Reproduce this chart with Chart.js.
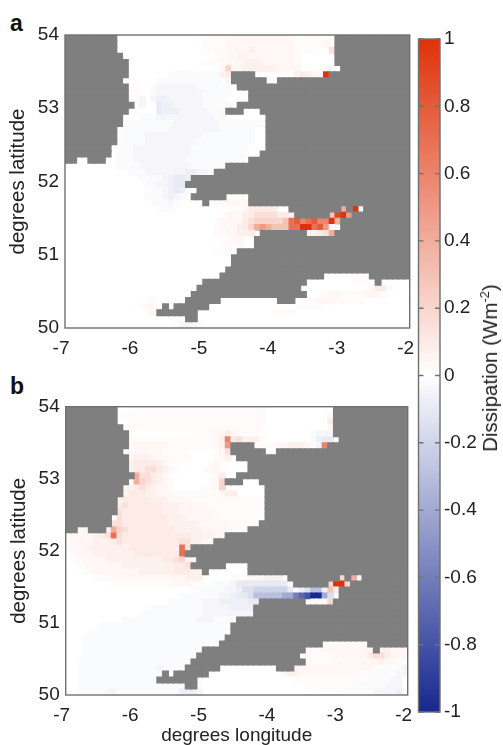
<!DOCTYPE html>
<html>
<head>
<meta charset="utf-8">
<script src="https://cdn.jsdelivr.net/npm/chart.js@4/dist/chart.umd.min.js"></script>
<style>
html, body { margin: 0; padding: 0; background: #fff; overflow: hidden; }
body { width: 503px; height: 745px; position: relative; font-family: "Liberation Sans", sans-serif; color: #222; filter: blur(0.45px); }
.box { position: absolute; }
.letter { position: absolute; left: 10px; font-size: 23px; font-weight: bold; line-height: 23px; color: #111; }
#barTitle { position: absolute; left: 490px; top: 368px; white-space: nowrap; font-size: 20.5px; line-height: 20px; transform: translate(-50%, -50%) rotate(-90deg); }
#barTitle sup { font-size: 13px; line-height: 0; }
</style>
</head>
<body>
<div class="letter" style="top:12px">a</div>
<div class="letter" style="top:375px">b</div>
<div class="box" style="left:0;top:0;width:445px;height:362px"><canvas id="mapA"></canvas></div>
<div class="box" style="left:0;top:372px;width:445px;height:373px"><canvas id="mapB"></canvas></div>
<div class="box" style="left:410px;top:0;width:93px;height:745px"><canvas id="bar"></canvas></div>
<div id="barTitle">Dissipation (Wm<sup>-2</sup>)</div>
<script>
var lonTicks = [-7, -6, -5, -4, -3, -2];
var latTicks = [50, 51, 52, 53, 54];
var barTicks = [1, 0.8, 0.6, 0.4, 0.2, 0, -0.2, -0.4, -0.6, -0.8, -1];

// letter codes used in the sea rows, lower case positive, upper case negative
var levelCodes = "abcdefghijklmn";
var levelValues = [0.02, 0.04, 0.07, 0.1, 0.15, 0.2, 0.3, 0.4, 0.5, 0.6, 0.7, 0.8, 0.9, 1];

// land on the 1/12 degree grid, one row per line from 54N down: from,to,from,to column
var landSpans = [
    [0,8,47,59], [0,8,47,59], [0,8,47,59], [0,9,47,59], [0,10,47,59], [0,10,48,59],
    [0,10,29,32,46,59], [0,9,29,34,37,59], [0,10,30,59], [0,10,32,59], [0,10,32,59], [0,11,30,59],
    [0,10,28,30,34,59], [0,9,35,59], [0,9,35,59], [0,8,35,59], [0,8,35,59], [0,8,35,59],
    [0,7,35,59], [0,7,34,59], [0,1,4,6,32,59], [28,59], [26,59], [22,59],
    [21,59], [23,59], [22,27,32,59], [24,24,32,59], [39,47,49,49,52,59], [40,45,50,59],
    [48,59], [48,59], [34,41,47,59], [33,59], [33,59], [30,59],
    [29,59], [29,59], [28,59], [27,44,53,59], [24,41,54,54], [23,40],
    [22,41], [21,26,37,39], [17,17,19,24], [16,22], [21,22], []
];

// dissipation, read per row: [row, first column, level letters]
var seaA = [
    [0,24,"aaaabbbbbbbbbbbbaaaaaa"], [1,24,"aaaabbbbbbbbbbbbaaaaab"], [2,24,"aaaabbbbcbbbbbbbaaaa"], [2,46,"e"],
    [3,26,"aabbcbbbbbbbbba"], [4,24,"aaabbbbcccbbbbbba"],
    [5,27,"bf"], [5,29,"bbccccccbbbb"], [5,46,"B"],
    [6,18,"AAAAAAAAA"], [6,27,"cd"], [6,38,"aacdcbb"], [6,45,"n"],
    [7,16,"AAAAAAAAAAA"], [7,28,"b"],
    [8,11,"aa"], [8,15,"ABBBBBBBAAAAA"], [8,28,"a"],
    [9,11,"aa"], [9,15,"ABBBBBBBBAAAAA"],
    [10,12,"a"], [10,13,"B"], [10,15,"BCCBBBBBBAAAA"],
    [11,12,"a"], [11,13,"B"], [11,16,"DCCBBBBBAAAA"], [11,27,"ab"],
    [12,12,"a"], [12,16,"DCCCBBBBBAAA"], [12,27,"b"],
    [13,13,"AAABBBBBBBBBBA"], [13,27,"b"],
    [14,11,"AAAAAAAABBBBBBBBAAAAAAAA"],
    [15,10,"AAAAAAAABBBBBBBBBAAAAAA"],
    [16,9,"aAAAABBBBBBBBBBAAAAAAAAA"],
    [17,9,"aAAAABBBBBBBBBAAAAAAAAAA"],
    [18,9,"aAABBBBBBBBBBAAAAAAAAAA"],
    [19,9,"AAABBBBBBBBBBAAAAAAAAAA"],
    [20,9,"AAABBBBBBBBBAAAAAAAAAA"],
    [21,9,"AAAABBBBBBBBBAAAAAAA"],
    [22,11,"AAABBBBBBBCCBBAA"],
    [23,13,"AAAABCDDCA"], [24,14,"AABBCDDCA"], [25,15,"AABCDCA"], [26,14,"AAABCBA"], [27,15,"AAABA"], [28,16,"AAA"],
    [26,28,"aaaa"], [27,26,"aabbbb"],
    [28,29,"aab"], [28,32,"ddddd"], [28,48,"h"], [28,50,"n"],
    [29,27,"abbb"], [29,31,"cdeeeeddc"], [29,46,"gmni"],
    [30,26,"abbbb"], [30,31,"defffffg"], [30,39,"kljklj"], [30,45,"jnh"],
    [31,26,"abbbcd"], [31,32,"fhihgggkknnklia"],
    [32,26,"aabbccd"], [32,42,"ccdeh"],
    [33,27,"aabba"], [34,27,"aaab"], [35,26,"aaa"],
    [40,50,"aaa"], [41,52,"abdda"], [42,44,"aabbaaaabbba"], [43,41,"aaabbbaaaaa"], [44,40,"aaaaa"], [45,36,"aaaa"],
    [43,14,"aa"], [44,13,"abb"], [45,14,"ab"], [46,19,"A"], [47,20,"BBBA"]
];

var seaB = [
    [0,12,"aaaaaaaaaaaaaaaaaaaaaaa"],
    [1,10,"aaaaaaaaaaaaaaaaaaaaaaaaa"], [1,46,"b"],
    [2,11,"aaaaaaaaaaaaaaaaaaaaaaaa"], [2,46,"d"],
    [3,11,"aaaaaaaaaaaaaaaaaaaaaaaa"], [3,46,"b"],
    [4,22,"aaaabbdbaaaa"], [4,43,"ABBB"],
    [5,11,"aaaaaaaaaaaaaaa"], [5,26,"bcjdeccca"], [5,43,"ACDD"],
    [6,11,"abbbbbbaaaaaaaa"], [6,26,"bci"], [6,33,"aaaabbcccbAB"], [6,45,"j"],
    [7,10,"abbbbbbaaaa"], [7,26,"abe"],
    [8,11,"bcccbbbaaaa"], [8,26,"abc"],
    [9,11,"cddddcbaa"], [9,25,"aba"],
    [10,11,"cddeedcba"], [10,24,"abba"],
    [11,12,"heedcb"], [11,25,"abd"],
    [12,11,"ahfedcba"], [12,25,"abf"],
    [13,10,"bcdedcbba"], [13,24,"aabf"],
    [14,10,"cdddccbbbaaaaaaaabcd"],
    [15,9,"cdddddcccbbbbaaaaaaaaaaaaa"],
    [16,9,"deddddddcccbbbbbaaaaaaaaaa"],
    [17,9,"edddddddcccbbbbbbaaaaaaaaa"],
    [18,9,"eddddddddcccbbbbbbaaaaaaaa"],
    [19,8,"eeddddddddcccccbbbbbbaaaaaa"],
    [20,2,"bb"], [20,7,"chfeddddddddcccccbbbbbaaaaa"],
    [21,0,"abbbbcdek"], [21,9,"eddddddddddddccccbbbb"],
    [22,0,"abbbbcccde"], [22,10,"ddddddddddee"], [22,22,"ccba"],
    [23,0,"abbbccccc"], [23,9,"ccdddddddddk"], [23,21,"e"],
    [24,0,"aabbbccccccc"], [24,12,"ddddddddk"],
    [25,1,"aabbbbccccccccccddef"], [25,21,"cb"],
    [26,2,"aabbbbbbcccccccccdde"],
    [27,3,"aabbbbbbbbccccccddd"], [27,22,"cc"], [27,25,"aa"],
    [28,5,"aaabbbbbbbbbbbbbccc"], [28,29,"aaabbbccc"], [28,48,"f"], [28,50,"h"],
    [29,8,"aaaaaaaaaaabbbaa"], [29,26,"AAAB"], [29,30,"DDDDDDDDDA"], [29,46,"fnnf"],
    [30,22,"AAAAAABBC"], [30,31,"EEFFFFFFDA"], [30,41,"CEGGC"], [30,46,"gd"],
    [31,20,"AAAAAAABBCD"], [31,31,"DEGGGGGHHJKLNNHE"],
    [32,18,"AAAAAABBBCCCCCDD"], [32,43,"AAbf"],
    [33,15,"AAAAAAAAABBBBBCCCC"],
    [34,13,"AAAAAAAAAAABBBBBBBBB"],
    [35,10,"AAAAAAAAAAAAABBBAAAA"],
    [36,6,"AAAAAAAAAAAAAAAAAAAAAAA"],
    [37,4,"AAAAAAAAAAAAAAAAAAAAAAAAA"],
    [38,3,"AAAAAAAAAAAAAAAAAAAAAAAAA"],
    [39,3,"AAAAAAAAAAAAAAAAAAAAAAAA"], [39,45,"aaaaaaaa"],
    [40,3,"AAAAAAAAAAAAAAAAAAAAA"], [40,42,"aaabbbbbbbbb"], [40,55,"ccbbb"],
    [41,3,"AAAAAAAAAAAAAAAAAAAA"], [41,41,"aaaaaabbbbbb"], [41,53,"deedbbb"],
    [42,2,"AAAAAAAAAAAAAAAAAAAA"], [42,42,"aaaaaabbbbbbbcbbaa"],
    [43,2,"AAAAAAAAAAAAAABAAAA"], [43,40,"cbbbbbbbbbbbbbaaAA"], [43,58,"AB"],
    [44,2,"AAAAAAAAAAAAAAA"], [44,38,"bccbbbbbbbbbbaaaaAAAB"], [44,59,"B"],
    [45,2,"AAAAAAAAAAAAAA"], [45,40,"aaaaaaaaaaaaaAAAABB"],
    [46,2,"AAAAAAAAAAAAAAAAAA"], [46,20,"ABBA"], [46,42,"aaaaaaaaaAAAAABBB"],
    [47,2,"AAAAABBAAAAAAAAAAAA"], [47,20,"CCCB"], [47,44,"aaaaaAAAAABBBBC"]
];

var gridStep = 1 / 12;

function levelOf(code) {
    var i = levelCodes.indexOf(code.toLowerCase());
    if (i < 0) return 0;
    return code === code.toLowerCase() ? levelValues[i] : -levelValues[i];
}

function valueColor(v) {
    // white to red above zero, white to blue below
    var end = v > 0 ? [222, 50, 10] : [22, 40, 142];
    var t = Math.abs(v);
    return "rgb(" + Math.round(255 + (end[0] - 255) * t) + "," + Math.round(255 + (end[1] - 255) * t) + "," + Math.round(255 + (end[2] - 255) * t) + ")";
}

function cellPoint(row, col) {
    return { x: lonTicks[0] + (col + 0.5) * gridStep, y: latTicks[latTicks.length - 1] - (row + 0.5) * gridStep };
}

function landPoints() {
    var pts = [];
    landSpans.forEach(function (spans, row) {
        for (var s = 0; s < spans.length; s += 2) {
            for (var col = spans[s]; col <= spans[s + 1]; col++) {
                pts.push(cellPoint(row, col));
            }
        }
    });
    return pts;
}

function seaPoints(sea) {
    var pts = [];
    sea.forEach(function (run) {
        for (var i = 0; i < run[2].length; i++) {
            var v = levelOf(run[2][i]);
            if (v === 0) continue;
            var p = cellPoint(run[0], run[1] + i);
            p.v = v;
            pts.push(p);
        }
    });
    return pts;
}

// frame round the plot, and the short inward ticks of the colour bar
var framePlugin = {
    id: "frame",
    afterDraw: function (chart) {
        var a = chart.chartArea, ctx = chart.ctx;
        ctx.save();
        ctx.strokeStyle = "#707070";
        ctx.lineWidth = 1.4;
        ctx.strokeRect(a.left, a.top, a.right - a.left, a.bottom - a.top);
        if (chart.canvas.id === "bar") {
            barTicks.forEach(function (t) {
                var y = chart.scales.y.getPixelForValue(t);
                ctx.beginPath();
                ctx.moveTo(a.left, y);
                ctx.lineTo(a.left + 5, y);
                ctx.moveTo(a.right - 5, y);
                ctx.lineTo(a.right, y);
                ctx.stroke();
            });
        }
        ctx.restore();
    }
};

function setTicks(values) {
    return function (axis) {
        axis.ticks = values.map(function (v) { return { value: v }; });
    };
}

function getMapChart(id, sea, pad, xHeight, xTitle) {
    var cells = seaPoints(sea);
    return new Chart(document.getElementById(id), {
        type: "scatter",
        data: {
            datasets: [
                { data: landPoints(), pointStyle: "rect", pointRadius: 4.95, pointBorderWidth: 0, pointBackgroundColor: "#7f7f7f" },
                { data: cells, pointStyle: "rect", pointRadius: 4.8, pointBorderWidth: 0,
                  pointBackgroundColor: cells.map(function (c) { return valueColor(c.v); }) }
            ]
        },
        options: {
            responsive: true,
            maintainAspectRatio: false,
            animation: false,
            events: [],
            layout: { padding: pad },
            plugins: { legend: { display: false }, tooltip: { enabled: false } },
            scales: {
                x: {
                    type: "linear", min: -7, max: -2,
                    grid: { display: false, drawTicks: false },
                    border: { display: false },
                    afterBuildTicks: setTicks(lonTicks),
                    afterFit: function (axis) { axis.height = xHeight; },
                    title: { display: !!xTitle, text: xTitle, color: "#222", padding: 0,
                             font: { family: "Liberation Sans", size: 19, lineHeight: 1 } },
                    ticks: { autoSkip: false, maxRotation: 0, padding: 9.5, labelOffset: -4, color: "#222",
                             font: { family: "Liberation Sans", size: 19 },
                             callback: function (v) { return String(v); } }
                },
                y: {
                    type: "linear", min: 50, max: 54,
                    grid: { display: false, drawTicks: false },
                    border: { display: false },
                    afterBuildTicks: setTicks(latTicks),
                    afterFit: function (axis) { axis.width = 65; },
                    title: { display: true, text: "degrees latitude", color: "#222", padding: { top: 8, bottom: 8 },
                             font: { family: "Liberation Sans", size: 20.5, lineHeight: 1 } },
                    ticks: { padding: 6, color: "#222",
                             font: { family: "Liberation Sans", size: 19 },
                             callback: function (v) { return String(v); } }
                }
            }
        },
        plugins: [framePlugin]
    });
}

function getBarChart() {
    return new Chart(document.getElementById("bar"), {
        type: "bar",
        data: {
            labels: [""],
            datasets: [{
                data: [[barTicks[barTicks.length - 1], barTicks[0]]],
                barPercentage: 1,
                categoryPercentage: 1,
                backgroundColor: function (ctx) {
                    var c = ctx.chart;
                    if (!c.chartArea) return "#fff";
                    var g = c.ctx.createLinearGradient(0, c.chartArea.top, 0, c.chartArea.bottom);
                    g.addColorStop(0, valueColor(1));
                    g.addColorStop(0.5, "#ffffff");
                    g.addColorStop(1, valueColor(-1));
                    return g;
                }
            }]
        },
        options: {
            responsive: true,
            maintainAspectRatio: false,
            animation: false,
            events: [],
            layout: { padding: { left: 8.5, top: 39, bottom: 33, right: 0 } },
            plugins: { legend: { display: false }, tooltip: { enabled: false } },
            scales: {
                x: { display: false },
                y: {
                    position: "right", min: -1, max: 1,
                    grid: { display: false, drawTicks: false },
                    border: { display: false },
                    afterBuildTicks: setTicks(barTicks),
                    afterFit: function (axis) { axis.width = 63; },
                    ticks: { padding: 4, color: "#222",
                             font: { family: "Liberation Sans", size: 19 },
                             callback: function (v) { return String(v); } }
                }
            }
        },
        plugins: [framePlugin]
    });
}

getMapChart("mapA", seaA, { top: 35, right: 35.3, left: 0, bottom: 0 }, 34, "");
getMapChart("mapB", seaB, { top: 34.7, right: 37.3, left: 0.7, bottom: 0 }, 50, "degrees longitude");
getBarChart();
</script>
</body>
</html>
